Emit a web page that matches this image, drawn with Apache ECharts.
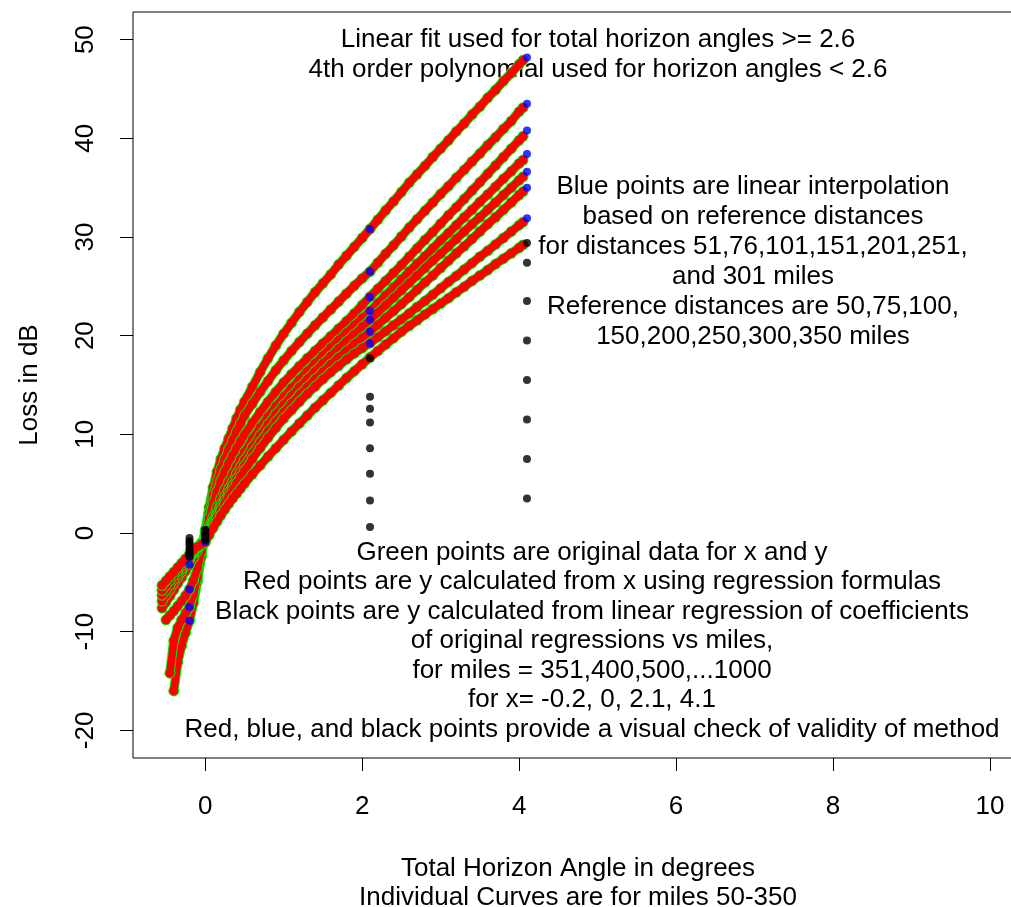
<!DOCTYPE html>
<html>
<head>
<meta charset="utf-8">
<script src="https://cdn.jsdelivr.net/npm/echarts@6/dist/echarts.min.js"></script>
<style>
  html, body { margin: 0; padding: 0; background: #fff; }
  #chart { width: 1011px; height: 907px; }
</style>
</head>
<body>
<div id="chart"></div>
<script>
// Total horizon angle (degrees) at which each reference curve is evaluated
const angleDeg = [
  -0.55, -0.5, -0.45, -0.4, -0.35, -0.3, -0.25, -0.2, -0.15, -0.1, -0.05, 0,
  0.05, 0.1, 0.15, 0.2, 0.25, 0.3, 0.35, 0.4, 0.45, 0.5,
  0.6, 0.7, 0.8, 0.9, 1.0, 1.1, 1.2, 1.3, 1.4, 1.5, 1.6, 1.7, 1.8, 1.9,
  2.0, 2.1, 2.2, 2.3, 2.4, 2.5, 2.6, 2.7, 2.8, 2.9, 3.0, 3.1, 3.2, 3.3,
  3.4, 3.5, 3.6, 3.7, 3.8, 3.9, 4.0, 4.05
];

// Loss in dB for each reference distance (null where the curve has no data)
const loss50 = [
  null, null, null, -16.0, -13.1, -11.4, -10.1, -8.9, -7.1, -4.9, -2.3, 0.3,
  2.6, 4.6, 6.2, 7.5, 8.6, 9.6, 10.6, 11.6, 12.5, 13.3,
  14.8, 16.3, 17.7, 19.0, 20.2, 21.3, 22.4, 23.4, 24.4, 25.3, 26.2, 27.2, 28.1, 29.0,
  29.9, 30.8, 31.75, 32.7, 33.6, 34.55, 35.5, 36.35, 37.2, 38.1, 38.95, 39.8, 40.7, 41.5,
  42.4, 43.2, 44.1, 44.9, 45.8, 46.6, 47.5, 47.9
];
const loss75 = [
  null, null, -14.2, -10.9, -9.6, -8.8, -8.15, -7.5, -6.2, -4.5, -2.4, 0.1,
  2.0, 3.8, 5.2, 6.5, 7.5, 8.5, 9.4, 10.3, 11.1, 11.9,
  13.1, 14.3, 15.4, 16.5, 17.5, 18.45, 19.35, 20.2, 21.05, 21.85, 22.65, 23.45, 24.25, 25.05,
  25.8, 26.5, 27.4, 28.3, 29.15, 30.05, 30.95, 31.8, 32.65, 33.5, 34.35, 35.15, 36.0, 36.8,
  37.65, 38.45, 39.3, 40.1, 40.95, 41.75, 42.7, 43.1
];
const loss100 = [
  null, -8.8, -8.35, -7.9, -7.4, -6.9, -6.35, -5.7, -4.8, -3.6, -1.9, -0.1,
  1.5, 3.0, 4.2, 5.3, 6.25, 7.1, 7.85, 8.6, 9.3, 9.95,
  11.15, 12.25, 13.3, 14.3, 15.25, 16.1, 16.9, 17.7, 18.45, 19.2, 19.95, 20.7, 21.45, 22.25,
  23.1, 23.95, 24.75, 25.55, 26.35, 27.15, 28.0, 28.85, 29.7, 30.5, 31.35, 32.2, 33.0, 33.85,
  34.7, 35.55, 36.4, 37.25, 38.1, 38.95, 39.8, 40.2
];
const loss150 = [
  -7.6, -7.0, -6.4, -5.75, -5.1, -4.5, -3.85, -3.2, -2.5, -1.8, -1.05, -0.3,
  0.6, 1.6, 2.6, 3.5, 4.4, 5.2, 6.0, 6.75, 7.5, 8.2,
  9.5, 10.7, 11.8, 12.85, 13.8, 14.7, 15.55, 16.4, 17.2, 18.0, 18.8, 19.55, 20.3, 21.05,
  21.8, 22.5, 23.3, 24.1, 24.9, 25.7, 26.5, 27.3, 28.05, 28.85, 29.65, 30.4, 31.2, 32.0,
  32.75, 33.55, 34.3, 35.1, 35.9, 36.65, 37.45, 37.8
];
const loss200 = [
  -6.9, -6.3, -5.7, -5.1, -4.5, -3.9, -3.3, -2.7, -2.1, -1.55, -1.0, -0.5,
  0.35, 1.2, 2.05, 2.9, 3.7, 4.5, 5.25, 6.0, 6.7, 7.4,
  8.7, 9.9, 11.0, 12.05, 13.0, 13.9, 14.8, 15.6, 16.4, 17.2, 17.95, 18.7, 19.45, 20.15,
  20.9, 21.6, 22.35, 23.1, 23.85, 24.6, 25.35, 26.1, 26.85, 27.6, 28.3, 29.05, 29.8, 30.55,
  31.3, 32.0, 32.75, 33.5, 34.25, 35.0, 35.75, 36.1
];
const loss250 = [
  -6.3, -5.8, -5.25, -4.7, -4.15, -3.6, -3.05, -2.5, -1.95, -1.45, -1.05, -0.65,
  0.15, 1.0, 1.8, 2.6, 3.35, 4.1, 4.8, 5.5, 6.15, 6.8,
  8.05, 9.2, 10.3, 11.3, 12.25, 13.15, 14.0, 14.8, 15.6, 16.35, 17.1, 17.8, 18.45, 19.15,
  19.8, 20.4, 21.1, 21.8, 22.5, 23.2, 23.9, 24.65, 25.4, 26.1, 26.85, 27.6, 28.35, 29.05,
  29.8, 30.55, 31.3, 32.0, 32.75, 33.5, 34.25, 34.6
];
const loss300 = [
  -5.8, -5.3, -4.8, -4.3, -3.8, -3.3, -2.8, -2.3, -1.85, -1.45, -1.1, -0.8,
  0.0, 0.8, 1.55, 2.3, 3.0, 3.7, 4.4, 5.05, 5.7, 6.3,
  7.5, 8.6, 9.65, 10.65, 11.6, 12.45, 13.3, 14.1, 14.85, 15.6, 16.3, 16.95, 17.6, 18.2,
  18.75, 19.25, 19.85, 20.45, 21.05, 21.65, 22.25, 22.9, 23.5, 24.15, 24.8, 25.45, 26.05, 26.7,
  27.35, 28.0, 28.6, 29.25, 29.9, 30.55, 31.2, 31.5
];
const loss350 = [
  -5.3, -4.85, -4.4, -3.95, -3.5, -3.05, -2.6, -2.15, -1.75, -1.4, -1.15, -0.95,
  -0.2, 0.5, 1.15, 1.8, 2.4, 2.95, 3.5, 4.0, 4.5, 5.0,
  5.95, 6.85, 7.75, 8.6, 9.45, 10.3, 11.1, 11.9, 12.7, 13.45, 14.2, 14.95, 15.7, 16.4,
  17.1, 17.8, 18.45, 19.1, 19.75, 20.4, 21.0, 21.55, 22.15, 22.7, 23.25, 23.8, 24.4, 24.95,
  25.55, 26.1, 26.65, 27.25, 27.8, 28.35, 28.9, 29.2
];
const referenceCurves = [loss50, loss75, loss100, loss150, loss200, loss250, loss300, loss350];

// Check angles used for the interpolated and extrapolated points
const checkAngles = [-0.2, 0, 2.1, 4.1];

// Linear interpolation for 51, 76, 101, 151, 201, 251, 301 miles
const blueMiles = [51, 76, 101, 151, 201, 251, 301];
const blueAtNeg02 = [-8.9, -7.5, -5.7, -3.2, -2.4, -2.2, -2.0];
const blueAt0 = [0.3, 0.1, -0.1, -0.3, -0.5, -0.65, -0.9];
const blueAt21 = [30.8, 26.5, 23.9, 22.5, 21.6, 20.4, 19.2];
const blueAt41 = [48.2, 43.5, 40.8, 38.4, 36.6, 35.0, 31.9];

// Regression of coefficients vs miles for 351, 400, 500, ... 1000 miles
const blackMiles = [351, 400, 500, 600, 700, 800, 900, 1000];
const blackAtNeg02 = [-2.4, -2.1, -1.8, -1.6, -1.3, -1.0, -0.8, -0.5];
const blackAt0 = [-0.7, -0.55, -0.4, -0.25, -0.1, 0.05, 0.2, 0.3];
const blackAt21 = [17.7, 13.8, 12.6, 11.2, 8.6, 6.0, 3.3, 0.6];
const blackAt41 = [29.4, 27.4, 23.5, 19.5, 15.5, 11.5, 7.5, 3.5];

const xTicks = [0, 2, 4, 6, 8, 10];
const yTicks = [-20, -10, 0, 10, 20, 30, 40, 50];

const FONT = '"Liberation Sans", Arial, sans-serif';
const FS = 26;

function pairs(xs, ys) {
  return xs.map((x, i) => [x, ys[i] == null ? null : ys[i]]);
}

function checkPoints(columns) {
  const out = [];
  columns.forEach((col, j) => {
    col.forEach(v => out.push([checkAngles[j], v]));
  });
  return out;
}

const series = [];
// Each curve in turn: original data as green rings, regression values as red dots on top
referenceCurves.forEach((ys, i) => {
  const data = pairs(angleDeg, ys);
  series.push({
    type: 'line', data: data, smooth: false, connectNulls: false, z: 2 + 2 * i,
    symbol: 'circle', symbolSize: 11, showAllSymbol: true,
    lineStyle: { color: '#00ee00', width: 9.5, cap: 'round', join: 'round' },
    itemStyle: { color: '#00ee00' },
    silent: true, animation: false
  });
  series.push({
    type: 'line', data: data, smooth: false, connectNulls: false, z: 3 + 2 * i,
    symbol: 'circle', symbolSize: 9, showAllSymbol: true,
    lineStyle: { color: '#ff0000', width: 7.5, cap: 'round', join: 'round' },
    itemStyle: { color: '#ff0000' },
    silent: true, animation: false
  });
});

series.push({
  type: 'scatter', symbolSize: 8, z: 40, itemStyle: { color: '#0000ff' },
  data: checkPoints([blueAtNeg02, blueAt0, blueAt21, blueAt41]),
  silent: true, animation: false
});
series.push({
  type: 'scatter', symbolSize: 8, z: 41, itemStyle: { color: '#000000' },
  data: checkPoints([blackAtNeg02, blackAt0, blackAt21, blackAt41]),
  silent: true, animation: false
});

const textStyle = { fontFamily: FONT, fontSize: FS, fill: '#000', align: 'center', verticalAlign: 'top' };

const chart = echarts.init(document.getElementById('chart'), null, { renderer: 'canvas' });
chart.setOption({
  backgroundColor: '#fff',
  animation: false,
  grid: {
    left: 133, top: 12, width: 890, height: 746,
    outerBoundsMode: 'none', containLabel: false,
    show: true, borderColor: '#000', borderWidth: 1, backgroundColor: 'transparent'
  },
  xAxis: {
    type: 'value', min: -0.92, max: 10.42,
    axisLine: { show: false, onZero: false },
    splitLine: { show: false },
    axisTick: { show: true, length: 13, customValues: xTicks, lineStyle: { color: '#000' } },
    axisLabel: { customValues: xTicks, fontFamily: FONT, fontSize: FS, color: '#000', margin: 36 },
    name: 'Total Horizon Angle in degrees\nIndividual Curves are for miles 50-350',
    nameLocation: 'middle', nameGap: 96,
    nameTextStyle: { fontFamily: FONT, fontSize: FS, color: '#000', lineHeight: 29 }
  },
  yAxis: {
    type: 'value', min: -22.8, max: 52.8,
    axisLine: { show: false, onZero: false },
    splitLine: { show: false },
    axisTick: { show: true, length: 13, customValues: yTicks, lineStyle: { color: '#000' } },
    axisLabel: { customValues: yTicks, fontFamily: FONT, fontSize: FS, color: '#000', rotate: 90, margin: 34 },
    name: 'Loss in dB', nameLocation: 'middle', nameGap: 90, nameRotate: 90,
    nameTextStyle: { fontFamily: FONT, fontSize: FS, color: '#000' }
  },
  graphic: [
    { type: 'text', x: 598, y: 25, z: 1, style: Object.assign({}, textStyle, { lineHeight: 30,
      text: 'Linear fit used for total horizon angles >= 2.6\n4th order polynomial used for horizon angles < 2.6' }) },
    { type: 'text', x: 753, y: 172, z: 1, style: Object.assign({}, textStyle, { lineHeight: 30,
      text: 'Blue points are linear interpolation\nbased on reference distances\nfor distances 51,76,101,151,201,251,\nand 301 miles\nReference distances are 50,75,100,\n150,200,250,300,350 miles' }) },
    { type: 'text', x: 592, y: 538, z: 1, style: Object.assign({}, textStyle, { lineHeight: 29.5,
      text: 'Green points are original data for x and y\nRed points are y calculated from x using regression formulas\nBlack points are y calculated from linear regression of coefficients\nof original regressions vs miles,\nfor miles = 351,400,500,...1000\nfor x= -0.2, 0, 2.1, 4.1\nRed, blue, and black points provide a visual check of validity of method' }) }
  ],
  series: series
});
</script>
</body>
</html>
